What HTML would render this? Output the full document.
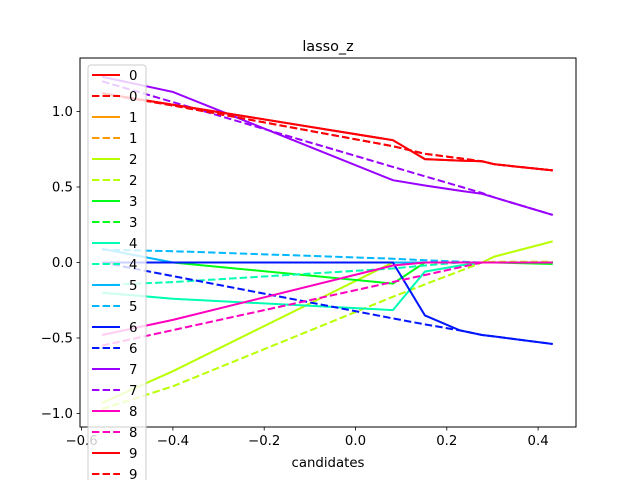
<!DOCTYPE html>
<html><head><meta charset="utf-8"><style>
body{margin:0;background:#fff;}
svg text{font-family:"DejaVu Sans","Liberation Sans",sans-serif;}
</style></head><body>
<svg id="chart" width="640" height="480" xmlns="http://www.w3.org/2000/svg">
<rect width="640" height="480" fill="#fff"/>
<text x="328" y="51" font-size="14.4" text-anchor="middle">lasso_z</text>
<g id="grid"></g>
<g id="plot"></g>
<rect x="80" y="58" width="496" height="369" fill="none" stroke="#000" stroke-width="1"/>
<g id="ticks"></g>
<text x="328" y="467" font-size="13.3" text-anchor="middle">candidates</text>
<g id="legend"></g>
</svg>
<script>
const xs = [-0.555,-0.4,0.082,0.152,0.229,0.277,0.305,0.432];
const s0 = [1.12,1.045,0.81,0.685,0.675,0.67,0.65,0.61];
const s0d = [1.12,1.04,0.77,0.72,0.69,0.67,0.65,0.61];
const s1 = [0,0,0,0,0,0,0,0];
const s1d = [0,0,0,0,0,0,0,0];
const s2 = [-0.93,-0.72,0,0,0,0,0.04,0.14];
const s2d = [-0.97,-0.82,-0.227,-0.145,-0.056,0,0.005,0.005];
const s3 = [0,0,-0.14,0,0,0,0,-0.01];
const s3d = [0,0,0,0,0,0,0,0];
const s4 = [-0.2,-0.24,-0.315,-0.06,-0.02,0,0,0];
const s4d = [-0.15,-0.13,-0.04,-0.02,0,0,0,0];
const s5 = [0.09,0,0,0,0,0,0,0];
const s5d = [0.085,0.075,0.025,0.015,0.005,0,0,0];
const s6 = [0,0,0,-0.35,-0.45,-0.48,-0.49,-0.54];
const s6d = [0,-0.09,-0.37,-0.41,-0.45,-0.48,-0.49,-0.54];
const s7 = [1.23,1.13,0.545,0.51,0.475,0.455,0.43,0.315];
const s7d = [1.2,1.062,0.633,0.571,0.503,0.46,0.43,0.315];
const s8 = [-0.48,-0.38,-0.02,0,0,0,0,0];
const s8d = [-0.55,-0.448,-0.129,-0.083,-0.032,0,0,0];
const s9 = [1.12,1.045,0.81,0.685,0.675,0.67,0.65,0.61];
const s9d = [1.12,1.04,0.77,0.72,0.69,0.67,0.65,0.61];
const labels = ["0","1","2","3","4","5","6","7","8","9"];
const colors = ["#ff0000","#ff9900","#b8ff00","#00ff16","#00ffb3","#00b8ff","#0016ff","#9900ff","#ff00bf","#ff0006"];
const solid = [s0,s1,s2,s3,s4,s5,s6,s7,s8,s9];
const dashed = [s0d,s1d,s2d,s3d,s4d,s5d,s6d,s7d,s8d,s9d];
const xTicks = [-0.6,-0.4,-0.2,0.0,0.2,0.4];
const xTickLabels = ["−0.6","−0.4","−0.2","0.0","0.2","0.4"];
const yTicks = [-1.0,-0.5,0.0,0.5,1.0];
const yTickLabels = ["−1.0","−0.5","0.0","0.5","1.0"];

const NS="http://www.w3.org/2000/svg";
const X = v => 355.5 + v*456.5;
const Y = v => 262.5 - v*151;
function mk(tag, attrs, parent){const e=document.createElementNS(NS,tag);for(const k in attrs)e.setAttribute(k,attrs[k]);parent.appendChild(e);return e;}
const plot=document.getElementById('plot'), ticks=document.getElementById('ticks'), leg=document.getElementById('legend');
plot.setAttribute('clip-path','url(#clip)');
const defs=mk('defs',{},document.getElementById('chart'));
const cp=mk('clipPath',{id:'clip'},defs); mk('rect',{x:80,y:58,width:496,height:369},cp);

for(let i=0;i<10;i++){
  for(const [arr,dash] of [[solid[i],false],[dashed[i],true]]){
    const pts=arr.map((v,j)=>X(xs[j]).toFixed(1)+','+Y(v).toFixed(1)).join(' ');
    const p=mk('polyline',{points:pts,fill:'none',stroke:colors[i],'stroke-width':2},plot);
    if(dash)p.setAttribute('stroke-dasharray','7.4,3.2');
    
    
  }
}
xTicks.forEach((v,i)=>{
  const t=mk('line',{x1:X(v),x2:X(v),y1:427,y2:430.5,stroke:'#000','stroke-width':0.8},ticks);
  
  
  const l=mk('text',{x:X(v),y:445,'font-size':13.3,'text-anchor':'middle'},ticks);
  l.textContent=xTickLabels[i];
  
  
});
yTicks.forEach((v,i)=>{
  const t=mk('line',{x1:76.5,x2:80,y1:Y(v),y2:Y(v),stroke:'#000','stroke-width':0.8},ticks);
  
  
  const l=mk('text',{x:73,y:Y(v)+4.5,'font-size':13.3,'text-anchor':'end'},ticks);
  l.textContent=yTickLabels[i];
  
  
});
const box=mk('rect',{x:88,y:65,width:58,height:430,rx:3,fill:'#fff','fill-opacity':0.8,stroke:'#ccc','stroke-width':1},leg);


for(let i=0;i<10;i++){
  for(let d=0;d<2;d++){
    const yy=75+(i*2+d)*21;
    const g=mk('g',{},leg);
    
    
    const ln=mk('line',{x1:92,x2:120,y1:yy,y2:yy,stroke:colors[i],'stroke-width':2},g);
    if(d)ln.setAttribute('stroke-dasharray','7.4,3.2');
    const tx=mk('text',{x:129,y:yy+5,'font-size':13.3},g);
    tx.textContent=labels[i];
  }
}
</script>
</body></html>
